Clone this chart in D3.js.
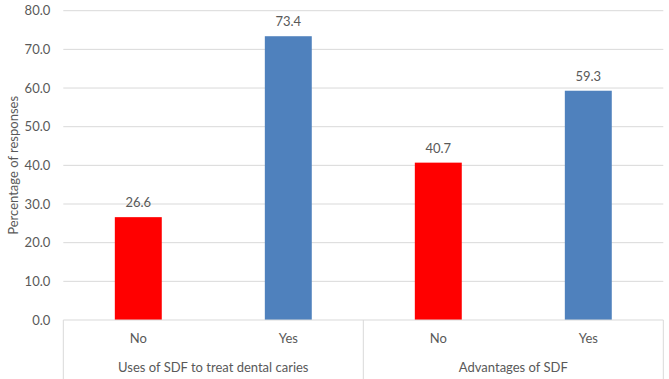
<!DOCTYPE html>
<html lang="en">
  <head>
    <meta charset="UTF-8" />
    <title>SDF responses</title>
    <script src="https://d3js.org/d3.v7.min.js"></script>
    <style>
      body { margin: 0; background: #fff; }
      text { font-family: Lato, "Open Sans", sans-serif; fill: #595959; }
    </style>
  </head>
  <body>
    <svg id="chart" width="669" height="379"></svg>
    <script>
      // data
      const groups = ["Uses of SDF to treat dental caries", "Advantages of SDF"];
      const answers = ["No", "Yes"];
      const values = [
        [26.6, 73.4],
        [40.7, 59.3],
      ];
      const yTicks = [0, 10, 20, 30, 40, 50, 60, 70, 80];
      const barColors = ["#ff0000", "#4f81bd"];

      const svg = d3.select("#chart"),
        margin = { top: 10.7, right: 5.7, bottom: 59, left: 63.3 },
        width = +svg.attr("width") - margin.left - margin.right,
        height = +svg.attr("height") - margin.top - margin.bottom,
        chart = svg
          .append("g")
          .attr("transform", `translate(${margin.left},${margin.top})`);

      const bars = [];
      groups.forEach((g, gi) => {
        answers.forEach((a, ai) => {
          bars.push({ key: gi + "-" + a, group: g, answer: a, ai: ai, value: values[gi][ai] });
        });
      });

      const x = d3
        .scaleBand()
        .domain(bars.map((d) => d.key))
        .range([0, width])
        .paddingInner(0.687)
        .paddingOuter(0.3435);

      const y = d3.scaleLinear().domain([0, 80]).range([height, 0]);

      // gridlines
      chart
        .append("g")
        .selectAll("line")
        .data(yTicks.slice(1))
        .enter()
        .append("line")
        .attr("x1", 0)
        .attr("x2", width)
        .attr("y1", (d) => y(d))
        .attr("y2", (d) => y(d))
        .attr("stroke", "#d9d9d9")
        .attr("stroke-width", 1);

      // y axis labels
      const yAxis = chart
        .append("g")
        .call(d3.axisLeft(y).tickValues(yTicks).tickFormat(d3.format(".1f")).tickSize(0).tickPadding(13));
      yAxis.select(".domain").remove();
      yAxis.selectAll("text").style("font-size", "13px").attr("fill", "#595959");

      svg
        .append("text")
        .attr("transform", `translate(13,${margin.top + height / 2}) rotate(-90)`)
        .attr("text-anchor", "middle")
        .attr("dy", "0.35em")
        .style("font-size", "13px")
        .text("Percentage of responses");

      // bars
      chart
        .selectAll("rect.bar")
        .data(bars)
        .enter()
        .append("rect")
        .attr("class", "bar")
        .attr("x", (d) => x(d.key))
        .attr("y", (d) => y(d.value))
        .attr("width", x.bandwidth())
        .attr("height", (d) => height - y(d.value))
        .attr("fill", (d) => barColors[d.ai]);

      chart
        .selectAll("text.val")
        .data(bars)
        .enter()
        .append("text")
        .attr("class", "val")
        .attr("x", (d) => x(d.key) + x.bandwidth() / 2)
        .attr("y", (d) => y(d.value) - 10)
        .attr("text-anchor", "middle")
        .style("font-size", "13px")
        .text((d) => d.value.toFixed(1));

      // category axis box
      const axisG = chart.append("g").attr("transform", `translate(0,${height})`);
      axisG
        .append("line")
        .attr("x1", 0)
        .attr("x2", width)
        .attr("stroke", "#d9d9d9");

      const groupWidth = width / groups.length;
      d3.range(groups.length + 1).forEach((i) => {
        axisG
          .append("line")
          .attr("x1", i * groupWidth)
          .attr("x2", i * groupWidth)
          .attr("y1", 0)
          .attr("y2", margin.bottom)
          .attr("stroke", "#d9d9d9");
      });

      axisG
        .selectAll("text.ans")
        .data(bars)
        .enter()
        .append("text")
        .attr("class", "ans")
        .attr("x", (d) => x(d.key) + x.bandwidth() / 2)
        .attr("y", 18)
        .attr("dy", "0.35em")
        .attr("text-anchor", "middle")
        .style("font-size", "13px")
        .text((d) => d.answer);

      axisG
        .selectAll("text.grp")
        .data(groups)
        .enter()
        .append("text")
        .attr("class", "grp")
        .attr("x", (d, i) => (i + 0.5) * groupWidth)
        .attr("y", 47)
        .attr("dy", "0.35em")
        .attr("text-anchor", "middle")
        .style("font-size", "13px")
        .text((d) => d);
    </script>
  </body>
</html>
